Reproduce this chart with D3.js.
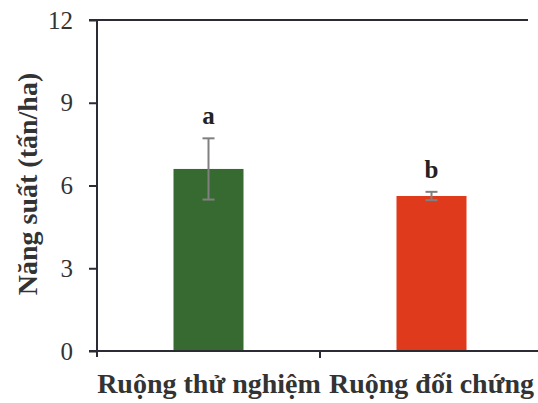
<!DOCTYPE html>
<html><head><meta charset="utf-8">
<script src="https://cdn.jsdelivr.net/npm/d3@7"></script>
<style>body{margin:0;background:#fff}svg{display:block}</style>
</head><body>
<script>
const categories = ["Ruộng thử nghiệm", "Ruộng đối chứng"];
const values = [6.6, 5.62];
const errors = [1.11, 0.15];
const letters = ["a", "b"];
const colors = ["#376a30", "#e03a1c"];
const yTicks = [0, 3, 6, 9, 12];

const W = 538, H = 403;
const svg = d3.select("body").append("svg").attr("width", W).attr("height", H);
const font = "Liberation Serif";
const x0 = 97, x1 = 543, yTop = 20, yBot = 351;
const x = d3.scaleBand().domain(categories).range([x0, x1]).paddingInner(0).paddingOuter(0);
const y = d3.scaleLinear().domain([0, 12]).range([yBot, yTop]);
const axisColor = "#2b2b33";

svg.append("line").attr("x1", 89).attr("x2", 528).attr("y1", y(12)).attr("y2", y(12))
  .attr("stroke", axisColor).attr("stroke-width", 2);

const bw = 70;
svg.selectAll("rect.bar").data(categories).join("rect")
  .attr("x", d => x(d) + x.bandwidth()/2 - bw/2)
  .attr("width", bw)
  .attr("y", (d,i) => y(values[i]))
  .attr("height", (d,i) => y(0) - y(values[i]))
  .attr("fill", (d,i) => colors[i]);

const eg = svg.append("g").attr("stroke", "#808080").attr("stroke-width", 2);
categories.forEach((c,i) => {
  const cx = x(c) + x.bandwidth()/2;
  eg.append("line").attr("x1", cx).attr("x2", cx).attr("y1", y(values[i]+errors[i])).attr("y2", y(values[i]-errors[i]));
  eg.append("line").attr("x1", cx-6).attr("x2", cx+6).attr("y1", y(values[i]+errors[i])).attr("y2", y(values[i]+errors[i]));
  eg.append("line").attr("x1", cx-6).attr("x2", cx+6).attr("y1", y(values[i]-errors[i])).attr("y2", y(values[i]-errors[i]));
  svg.append("text").attr("x", cx).attr("y", y(values[i]+errors[i]) - 14)
    .attr("text-anchor", "middle").style("font-family", font).style("font-weight", "bold")
    .style("font-size", "25px").attr("fill", "#222").text(letters[i]);
});

const ya = svg.append("g").attr("transform", `translate(${x0},0)`)
  .call(d3.axisLeft(y).tickValues(yTicks).tickSize(8).tickPadding(16).tickFormat(d3.format("d")));
ya.attr("font-family", null);
ya.select(".domain").remove();
ya.append("line").attr("x1", 0).attr("x2", 0).attr("y1", yTop).attr("y2", yBot + 6)
  .attr("stroke", axisColor).attr("stroke-width", 2);
ya.selectAll(".tick line").attr("stroke", axisColor).attr("stroke-width", 2);
ya.selectAll(".tick text").style("font-family", font).style("font-size", "25px").attr("fill", "#333");

svg.append("line").attr("x1", 89).attr("x2", W).attr("y1", yBot).attr("y2", yBot)
  .attr("stroke", axisColor).attr("stroke-width", 2);
svg.append("line").attr("x1", x(categories[1])).attr("x2", x(categories[1])).attr("y1", yBot).attr("y2", yBot + 7)
  .attr("stroke", axisColor).attr("stroke-width", 2);

svg.selectAll("text.cat").data(categories).join("text")
  .attr("x", (d,i) => i === 0 ? 209 : 431.5)
  .attr("y", 393).attr("text-anchor", "middle")
  .style("font-family", font).style("font-weight", "bold").style("font-size", "28px").attr("fill", "#333")
  .text(d => d);

svg.append("text").attr("transform", `translate(37,184) rotate(-90)`)
  .attr("text-anchor", "middle").style("font-family", font).style("font-weight", "bold")
  .style("font-size", "28px").attr("fill", "#333").text("Năng suất (tấn/ha)");
</script>
</body></html>
